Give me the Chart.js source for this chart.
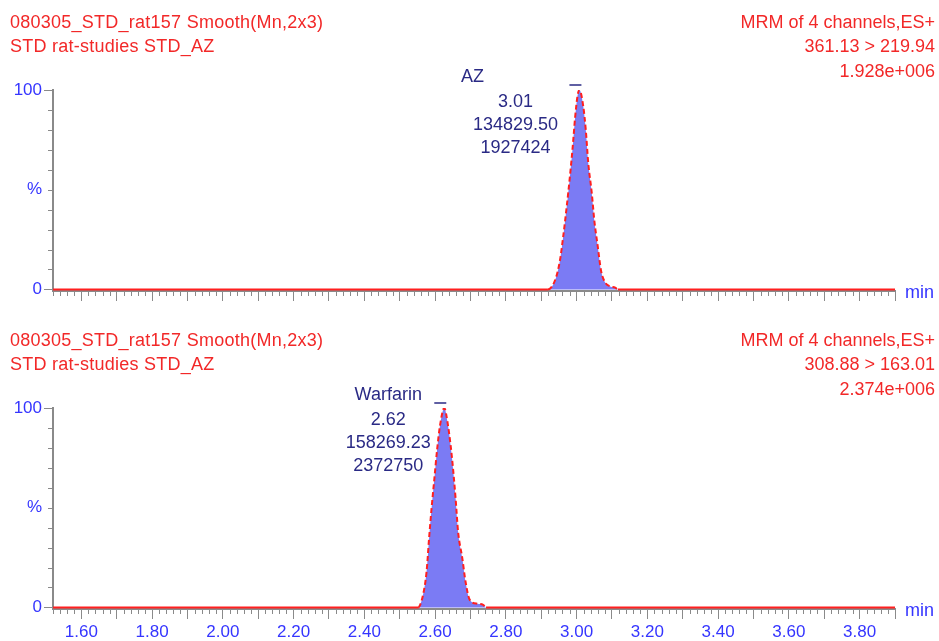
<!DOCTYPE html>
<html>
<head>
<meta charset="utf-8">
<script src="https://cdn.jsdelivr.net/npm/chart.js@4"></script>
<style>
body { margin: 0; background: #fff; }
#page { position: relative; width: 939px; height: 641px; overflow: hidden; font-family: "Liberation Sans", Arial, sans-serif; }
.panel { position: absolute; left: 0; width: 939px; }
.panel canvas { position: absolute; left: 0; top: 0; }
.hdr { position: absolute; font-size: 18px; line-height: 20px; color: #f22828; white-space: nowrap; }
.hdr.left { left: 10px; letter-spacing: 0.25px; }
.hdr.right { right: 4px; text-align: right; }
.unit { position: absolute; left: 905px; font-size: 18px; line-height: 20px; color: #3535ff; }
</style>
</head>
<body>
<div id="page">
  <div class="panel" id="p0" style="top:0;height:318px">
    <canvas id="c0" width="939" height="318"></canvas>
  </div>
  <div class="panel" id="p1" style="top:318px;height:323px">
    <canvas id="c1" width="939" height="323"></canvas>
  </div>
</div>
<script>
// header texts
const sampleTitle = '080305_STD_rat157 Smooth(Mn,2x3)'
const sampleDesc = 'STD rat-studies STD_AZ'
const functionTitle = 'MRM of 4 channels,ES+'
const transitions = ['361.13 > 219.94', '308.88 > 163.01']
const fullScale = ['1.928e+006', '2.374e+006']

// peak labels
const peakNames = ['AZ', 'Warfarin']
const peakRT = ['3.01', '2.62']
const peakArea = ['134829.50', '158269.23']
const peakHeight = ['1927424', '2372750']

// traces (min, % of full scale)
const azTime = [1.52, 2.919, 2.941, 2.953, 2.962, 2.972, 2.981, 2.989, 2.996, 3.003, 3.008, 3.019, 3.026, 3.033, 3.043, 3.050, 3.060, 3.069, 3.080, 3.095, 3.109, 3.117, 3.90]
const azSignal = [0, 0, 5.5, 14.6, 26.3, 41.4, 56.4, 71.5, 86.6, 97.5, 100, 91.6, 79.9, 63.3, 48.2, 34.7, 21.3, 9.5, 3.7, 1.5, 0.9, 0, 0]

const warfTime = [1.52, 2.552, 2.566, 2.576, 2.583, 2.590, 2.598, 2.606, 2.614, 2.626, 2.635, 2.647, 2.658, 2.665, 2.677, 2.686, 2.698, 2.720, 2.736, 2.744, 3.90]
const warfSignal = [0, 0, 6.3, 18, 34.6, 49.6, 64.6, 79.6, 91.3, 100, 93, 76.3, 54.6, 38, 24.6, 13, 3.8, 1.8, 1.3, 0, 0]

const xMin = 1.52
const xMax = 3.90

const fontFamily = '"Liberation Sans", Arial, sans-serif'
const axisGrey = '#8a8a8a'
const tickBlue = '#3535ff'

const isMajorX = v => Math.round(v * 100) % 10 === 0
const xLabel = v => Math.round(v * 100) % 20 === 0 ? v.toFixed(2) : ''
const yLabel = v => v === 100 ? '100' : v === 50 ? '%' : v === 0 ? '0' : ''

const minorTicks = {
    id: 'minorTicks',
    afterDraw(chart) {
        const {ctx, chartArea, scales: {x, y}} = chart
        ctx.save()
        ctx.strokeStyle = axisGrey
        ctx.lineWidth = 1
        ctx.beginPath()
        x.ticks.forEach(t => {
            if (isMajorX(t.value)) return
            const px = Math.round(x.getPixelForValue(t.value)) + 0.5
            ctx.moveTo(px, chartArea.bottom + 1)
            ctx.lineTo(px, chartArea.bottom + 5)
        })
        y.ticks.forEach(t => {
            if (t.value === 0 || t.value === 100) return
            const py = Math.round(y.getPixelForValue(t.value)) + 0.5
            ctx.moveTo(chartArea.left - 5, py)
            ctx.lineTo(chartArea.left - 1, py)
        })
        ctx.stroke()
        ctx.restore()
    }
}

const peakLabel = {
    id: 'peakLabel',
    afterDatasetsDraw(chart, args, opts) {
        const {ctx, scales: {x, y}} = chart
        const pts = chart.data.datasets[0].data
        const top = pts.reduce((a, b) => b.y > a.y ? b : a)
        const px = x.getPixelForValue(top.x)
        const py = y.getPixelForValue(top.y)
        ctx.save()
        ctx.fillStyle = '#2a2a85'
        ctx.strokeStyle = '#2a2a85'
        ctx.font = '18px ' + fontFamily
        ctx.textAlign = 'center'
        ctx.textBaseline = 'middle'
        ctx.fillText(opts.name, px + opts.dx + opts.nameDx, py - 13)
        opts.lines.forEach((s, i) => ctx.fillText(s, px + opts.dx, py + 12 + i * 23))
        ctx.lineWidth = 1.5
        ctx.beginPath()
        ctx.moveTo(px - 10, py - 5)
        ctx.lineTo(px + 2, py - 5)
        ctx.stroke()
        ctx.restore()
    }
}

const chromatogram = (canvas, i, time, signal, showLabels, dx, nameDx) => new Chart(canvas, {
    type: 'line',
    data: {
        datasets: [{
            data: time.map((t, k) => ({x: t, y: signal[k]})),
            borderColor: '#ff1f1f',
            borderWidth: 2,
            backgroundColor: '#7b7bf4',
            fill: 'origin',
            pointRadius: 0,
            cubicInterpolationMode: 'monotone',
            segment: {
                borderDash: c => (c.p0.parsed.y > 0 || c.p1.parsed.y > 0) ? [5, 3] : undefined
            }
        }]
    },
    options: {
        responsive: false,
        animation: false,
        events: [],
        layout: {padding: {top: 90, right: 44, left: 0, bottom: 0}},
        plugins: {
            legend: {display: false},
            tooltip: {enabled: false},
            peakLabel: {
                name: peakNames[i],
                lines: [peakRT[i], peakArea[i], peakHeight[i]],
                dx: dx,
                nameDx: nameDx
            }
        },
        scales: {
            x: {
                type: 'linear',
                min: xMin,
                max: xMax,
                afterFit: s => { s.height = canvas.height - 291 },
                border: {color: axisGrey, width: 2},
                grid: {
                    drawOnChartArea: false,
                    tickLength: 10,
                    tickColor: c => isMajorX(c.tick.value) ? axisGrey : 'rgba(0,0,0,0)'
                },
                ticks: {
                    display: showLabels,
                    stepSize: 0.02,
                    autoSkip: false,
                    maxRotation: 0,
                    padding: 3,
                    color: tickBlue,
                    font: {family: fontFamily, size: 17},
                    callback: v => xLabel(v)
                }
            },
            y: {
                min: -0.8,
                max: 100,
                afterBuildTicks: s => { s.ticks = [0, 10, 20, 30, 40, 50, 60, 70, 80, 90, 100].map(v => ({value: v})) },
                afterFit: s => { s.width = 53 },
                border: {color: axisGrey, width: 2},
                grid: {
                    drawOnChartArea: false,
                    tickLength: 9,
                    tickColor: c => (c.tick.value === 0 || c.tick.value === 100) ? axisGrey : 'rgba(0,0,0,0)'
                },
                ticks: {
                    autoSkip: false,
                    padding: 2,
                    color: tickBlue,
                    font: {family: fontFamily, size: 17},
                    callback: v => yLabel(v)
                }
            }
        }
    },
    plugins: [minorTicks, peakLabel]
})

// headers and unit label as page text
const addText = (panel, cls, text, top) => {
    const d = document.createElement('div')
    d.className = cls
    d.style.top = top + 'px'
    d.textContent = text
    document.getElementById(panel).appendChild(d)
}

;['p0', 'p1'].forEach((p, i) => {
    addText(p, 'hdr left', sampleTitle, 12)
    addText(p, 'hdr left', sampleDesc, 36)
    addText(p, 'hdr right', functionTitle, 12)
    addText(p, 'hdr right', transitions[i], 36)
    addText(p, 'hdr right', fullScale[i], 61)
    addText(p, 'unit', 'min', 282)
})

chromatogram(document.getElementById('c0'), 0, azTime, azSignal, false, -64, -43)
chromatogram(document.getElementById('c1'), 1, warfTime, warfSignal, true, -56, 0)
</script>
</body>
</html>
